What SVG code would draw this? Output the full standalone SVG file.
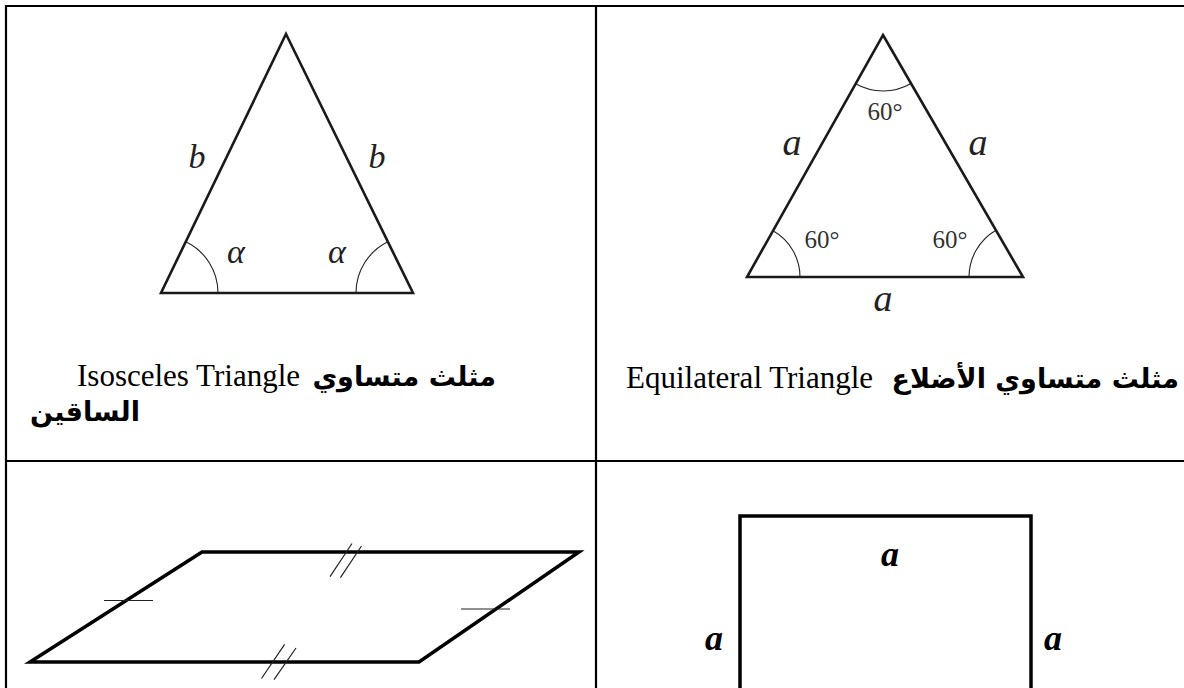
<svg xmlns="http://www.w3.org/2000/svg" width="1184" height="688" viewBox="0 0 1184 688">
<style>
.grid{stroke:#000;stroke-width:2.2;fill:none}
.tri{stroke:#1a1a1a;stroke-width:2.6;fill:none;stroke-linejoin:miter}
.arc{stroke:#222;stroke-width:1.1;fill:none}
.lbl{font-family:"Liberation Serif",serif;font-style:italic;fill:#222;text-anchor:middle}
.deg{font-family:"Liberation Serif",serif;font-size:25px;fill:#333;text-anchor:middle}
.en{font-family:"Liberation Serif",serif;font-size:31px;fill:#000}
.ar{font-family:"DejaVu Sans",sans-serif;font-weight:bold;font-size:27px;fill:#000;text-anchor:end}
.thick{stroke:#000;stroke-width:3.5;fill:none}
.tick{stroke:#222;stroke-width:1.2;fill:none}
.sq{font-family:"Liberation Serif",serif;font-style:italic;font-weight:bold;font-size:36px;fill:#000;text-anchor:middle}
</style>
<rect width="1184" height="688" fill="#fff"/>
<g id="table">
<path class="grid" d="M6 688 V6 H1184 M596 6 V688 M6 461 H1184"/>
</g>
<g id="isosceles">
<polygon class="tri" points="286,34 413,293 161,293"/>
<path class="arc" d="M185.8 241.7 A57 57 0 0 1 218 293"/>
<path class="arc" d="M356 293 A57 57 0 0 1 387.9 241.8"/>
<text class="lbl" x="197" y="168" font-size="34">b</text>
<text class="lbl" x="377" y="168" font-size="34">b</text>
<text class="lbl" x="236" y="263" font-size="34">α</text>
<text class="lbl" x="337" y="263" font-size="34">α</text>
</g>
<g id="equilateral">
<polygon class="tri" points="883,35 1023,277 747,277"/>
<path class="arc" d="M855.6 83.8 A56 56 0 0 0 911 83.5"/>
<path class="arc" d="M773 230.8 A53 53 0 0 1 800 277"/>
<path class="arc" d="M969 277 A54 54 0 0 1 996 230.3"/>
<text class="deg" x="885" y="120">60°</text>
<text class="deg" x="822" y="248">60°</text>
<text class="deg" x="950" y="248">60°</text>
<text class="lbl" x="792" y="155" font-size="38">a</text>
<text class="lbl" x="978" y="155" font-size="38">a</text>
<text class="lbl" x="883" y="311" font-size="38">a</text>
</g>
<g id="caption-isosceles">
<text class="en" x="77" y="386">Isosceles Triangle</text>
<text class="ar" x="496" y="386">مثلث متساوي</text>
<text class="ar" x="140" y="421">الساقين</text>
</g>
<g id="caption-equilateral">
<text class="en" x="626" y="388">Equilateral Triangle</text>
<text class="ar" x="1179" y="388">مثلث متساوي الأضلاع</text>
</g>
<g id="parallelogram">
<polygon class="thick" points="202,552 579,552 419,662 30,662"/>
<path class="tick" d="M104 600.5 H153 M461 609 H510"/>
<path class="tick" d="M352 543.5 L330 576.6 M361.5 546 L340.4 577.7"/>
<path class="tick" d="M296 648 L274 679.6 M284.6 644.4 L261.5 678.5"/>
</g>
<g id="square">
<path class="thick" d="M740 690 V516 H1031 V690"/>
<text class="sq" x="890" y="566">a</text>
<text class="sq" x="714" y="650">a</text>
<text class="sq" x="1053" y="650">a</text>
</g>
</svg>
